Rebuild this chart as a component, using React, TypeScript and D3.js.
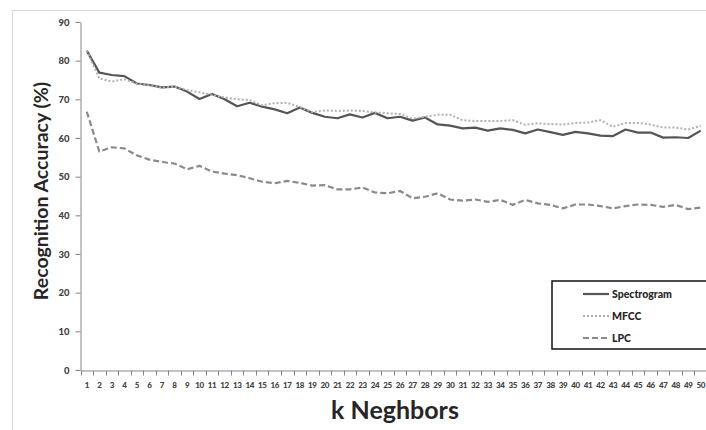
import React, { useEffect, useRef } from 'react';
import * as d3 from 'd3';

const kValues = d3.range(1, 51);

const spectrogram = [
  82.6, 76.9, 76.3, 76.0, 74.1, 73.7, 73.1, 73.3, 72.0, 70.1,
  71.4, 70.0, 68.2, 69.1, 68.1, 67.4, 66.4, 67.9, 66.5, 65.5,
  65.1, 66.1, 65.3, 66.5, 65.1, 65.5, 64.5, 65.3, 63.5, 63.2,
  62.5, 62.7, 61.9, 62.5, 62.1, 61.2, 62.2, 61.5, 60.8, 61.6,
  61.2, 60.6, 60.5, 62.2, 61.4, 61.4, 60.1, 60.2, 60.0, 61.9,
];

const mfcc = [
  82.6, 75.4, 74.6, 75.2, 74.1, 73.6, 73.0, 73.3, 72.4, 71.8,
  71.1, 70.5, 70.0, 69.8, 68.5, 69.0, 69.1, 68.0, 66.7, 67.1,
  67.0, 67.1, 67.0, 66.6, 66.4, 66.2, 65.0, 65.5, 66.0, 66.0,
  64.6, 64.4, 64.4, 64.4, 64.6, 63.4, 63.8, 63.6, 63.5, 63.9,
  64.0, 64.6, 62.9, 63.9, 63.9, 63.5, 62.7, 62.7, 62.2, 63.1,
];

const lpc = [
  66.8, 56.5, 57.6, 57.3, 55.5, 54.4, 53.8, 53.4, 51.9, 52.8,
  51.3, 50.8, 50.4, 49.6, 48.7, 48.3, 48.9, 48.4, 47.7, 47.8,
  46.7, 46.7, 47.2, 45.9, 45.7, 46.3, 44.4, 44.8, 45.7, 44.1,
  43.8, 44.1, 43.5, 44.0, 42.7, 44.0, 43.1, 42.7, 41.8, 42.8,
  42.8, 42.4, 41.8, 42.4, 42.8, 42.7, 42.2, 42.7, 41.6, 42.0,
];

const yTicks = [0, 10, 20, 30, 40, 50, 60, 70, 80, 90];

const seriesNames = ['Spectrogram', 'MFCC', 'LPC'];

const App = () => {
  const ref = useRef<SVGSVGElement>(null);

  useEffect(() => {
    const width = 706;
    const height = 430;
    const font = 'Lato, "Liberation Sans", sans-serif';

    const svg = d3.select(ref.current);
    svg.selectAll('*').remove();

    // outer chart frame
    svg.append('rect')
      .attr('x', 12.5).attr('y', 10.5)
      .attr('width', 740).attr('height', 460)
      .attr('fill', 'white')
      .attr('stroke', '#d9d9d9');

    const xScale = d3.scaleBand<number>()
      .domain(kValues)
      .range([80.5, 707]);

    const yScale = d3.scaleLinear()
      .domain([0, 90])
      .range([370, 22]);

    // y axis
    const yAxis = svg.append('g')
      .attr('transform', 'translate(80.5,0)')
      .call(d3.axisLeft(yScale).tickValues(yTicks).tickSize(5).tickSizeOuter(0));
    yAxis.select('.domain').attr('stroke', '#868686');
    yAxis.selectAll('.tick line').attr('stroke', '#868686');
    yAxis.selectAll('.tick text')
      .attr('x', -11)
      .attr('fill', '#404040')
      .style('font', `900 9.5px ${font}`);

    // x axis, ticks between categories
    const xAxis = svg.append('g')
      .attr('transform', 'translate(0,370.5)')
      .call(d3.axisBottom(xScale).tickSize(0).tickPadding(12));
    xAxis.select('.domain').attr('stroke', '#868686');
    xAxis.selectAll('.tick text')
      .attr('fill', '#404040')
      .style('font', `900 8px ${font}`)
      .attr('letter-spacing', '-0.4');
    xAxis.selectAll('.between')
      .data(d3.range(0, 51))
      .enter()
      .append('line')
      .attr('x1', i => Math.round(80.5 + i * xScale.step()) + 0.5)
      .attr('x2', i => Math.round(80.5 + i * xScale.step()) + 0.5)
      .attr('y1', 0).attr('y2', 5)
      .attr('stroke', '#868686');

    // lines
    const series = [
      { name: seriesNames[0], values: spectrogram, color: '#555555', dash: null, w: 2.2 },
      { name: seriesNames[1], values: mfcc, color: '#b0b0b0', dash: '2,2', w: 2 },
      { name: seriesNames[2], values: lpc, color: '#8a8a8a', dash: '6,3', w: 2.2 },
    ];

    const line = d3.line<number>()
      .x((_, i) => (xScale(kValues[i]) as number) + xScale.bandwidth() / 2)
      .y(d => yScale(d));

    series.forEach(s => {
      svg.append('path')
        .datum(s.values)
        .attr('d', line)
        .attr('fill', 'none')
        .attr('stroke', s.color)
        .attr('stroke-width', s.w)
        .attr('stroke-dasharray', s.dash)
        .attr('stroke-linejoin', 'round');
    });

    // legend
    const legend = svg.append('g');
    legend.append('rect')
      .attr('x', 552).attr('y', 281)
      .attr('width', 170).attr('height', 68)
      .attr('fill', 'white')
      .attr('stroke', '#111')
      .attr('stroke-width', 1.5);
    series.forEach((s, i) => {
      const y = 294 + i * 22;
      legend.append('line')
        .attr('x1', 583).attr('x2', 609)
        .attr('y1', y).attr('y2', y)
        .attr('stroke', s.color)
        .attr('stroke-width', s.w)
        .attr('stroke-dasharray', s.dash);
      legend.append('text')
        .attr('x', 612).attr('y', y + 3.5)
        .attr('fill', '#262626')
        .style('font', `900 10.5px ${font}`)
        .text(s.name);
    });

    // axis titles
    svg.append('text')
      .attr('x', 395).attr('y', 419)
      .attr('text-anchor', 'middle')
      .attr('fill', '#262626')
      .style('font', `bold 25px ${font}`)
      .text('k Neghbors');

    svg.append('text')
      .attr('transform', 'translate(48,191) rotate(-90)')
      .attr('text-anchor', 'middle')
      .attr('fill', '#262626')
      .style('font', `bold 19.5px ${font}`)
      .text('Recognition Accuracy (%)');

    svg.attr('width', width).attr('height', height);
  }, []);

  return (
    <svg
      ref={ref}
      width={706}
      height={430}
      style={{ position: 'absolute', left: 0, top: 0, background: 'white' }}
    />
  );
};

export default App;
